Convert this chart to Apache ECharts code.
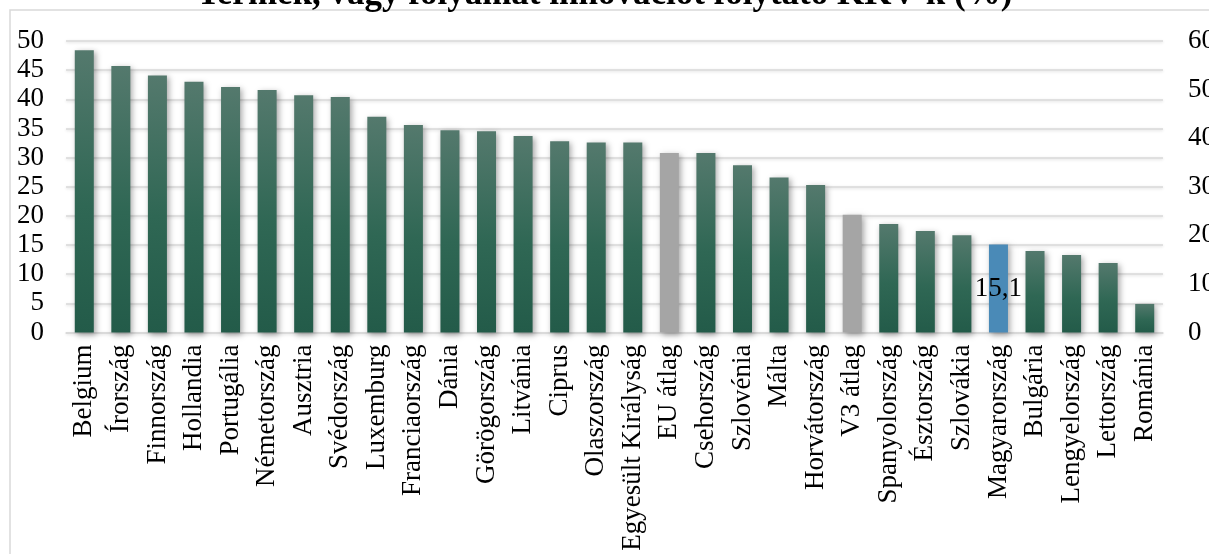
<!DOCTYPE html>
<html>
<head>
<meta charset="utf-8">
<script src="https://cdn.jsdelivr.net/npm/echarts@6/dist/echarts.min.js"></script>
<style>html,body{margin:0;padding:0;background:#fff;}#c{width:1209px;height:554px;}</style>
</head>
<body>
<div id="c"></div>
<script>
const titleText = 'Termék, vagy folyamat innovációt folytató KKV-k (%)';
const categories = ['Belgium','Írország','Finnország','Hollandia','Portugália','Németország','Ausztria','Svédország','Luxemburg','Franciaország','Dánia','Görögország','Litvánia','Ciprus','Olaszország','Egyesült Királyság','EU átlag','Csehország','Szlovénia','Málta','Horvátország','V3 átlag','Spanyolország','Észtország','Szlovákia','Magyarország','Bulgária','Lengyelország','Lettország','Románia'];
const values = [48.4,45.7,44.1,43.0,42.1,41.6,40.7,40.4,37.0,35.6,34.7,34.5,33.7,32.8,32.6,32.6,30.8,30.8,28.7,26.6,25.3,20.2,18.6,17.4,16.7,15.1,14.0,13.3,11.9,4.9];
const averageCategories = ['EU átlag','V3 átlag'];
const highlightCategory = 'Magyarország';
const leftTicks = {min:0, max:50, interval:5};
const rightTicks = {min:0, max:60, interval:10};

const FONT = '"Liberation Serif", "Times New Roman", serif';
const green = new echarts.graphic.LinearGradient(0,0,0,1,[{offset:0,color:'#54796d'},{offset:0.55,color:'#2f6754'},{offset:1,color:'#235b49'}]);

const data = categories.map((c,i)=>{
  const item = {value: values[i]};
  if (averageCategories.includes(c)) item.itemStyle = {color:'#a5a5a5'};
  else if (c === highlightCategory) {
    item.itemStyle = {color:'#4a8ab7'};
    item.label = {show:true, position:'inside', color:'#000', fontFamily:FONT, fontSize:27,
      formatter: p => String(p.value).replace('.', ',')};
  }
  return item;
});

const chart = echarts.init(document.getElementById('c'));
chart.setOption({
  animation:false,
  title:{text:titleText, left:'center', top:-28, textStyle:{fontFamily:FONT, fontWeight:'bold', fontSize:35, color:'#000'}},
  graphic:[{type:'rect', shape:{x:10,y:10,width:1300,height:700}, style:{fill:'none', stroke:'#d9d9d9', lineWidth:1.5}, silent:true, z:-1}],
  grid:{left:66, right:46, top:41, bottom:221.5, containLabel:false, outerBoundsMode:'none'},
  xAxis:{type:'category', data:categories,
    axisLine:{lineStyle:{color:'#d9d9d9', width:1.5}}, axisTick:{show:false},
    axisLabel:{rotate:90, interval:0, margin:12, color:'#000', fontFamily:FONT, fontSize:27}},
  yAxis:[
    {type:'value', min:leftTicks.min, max:leftTicks.max, interval:leftTicks.interval,
      axisLabel:{color:'#000', fontFamily:FONT, fontSize:27, margin:22},
      axisLine:{show:false}, axisTick:{show:false},
      splitLine:{lineStyle:{color:'#d9d9d9', width:1.5, shadowColor:'rgba(0,0,0,0.15)', shadowBlur:3, shadowOffsetY:1}}},
    {type:'value', min:rightTicks.min, max:rightTicks.max, interval:rightTicks.interval, position:'right',
      axisLabel:{color:'#000', fontFamily:FONT, fontSize:27, margin:25},
      axisLine:{show:false}, axisTick:{show:false}, splitLine:{show:false}}
  ],
  series:[{type:'bar', data:data, barCategoryGap:'48%', yAxisIndex:0,
    itemStyle:{color:green, shadowColor:'rgba(0,0,0,0.35)', shadowBlur:6, shadowOffsetX:2, shadowOffsetY:2}}]
});
</script>
</body>
</html>
